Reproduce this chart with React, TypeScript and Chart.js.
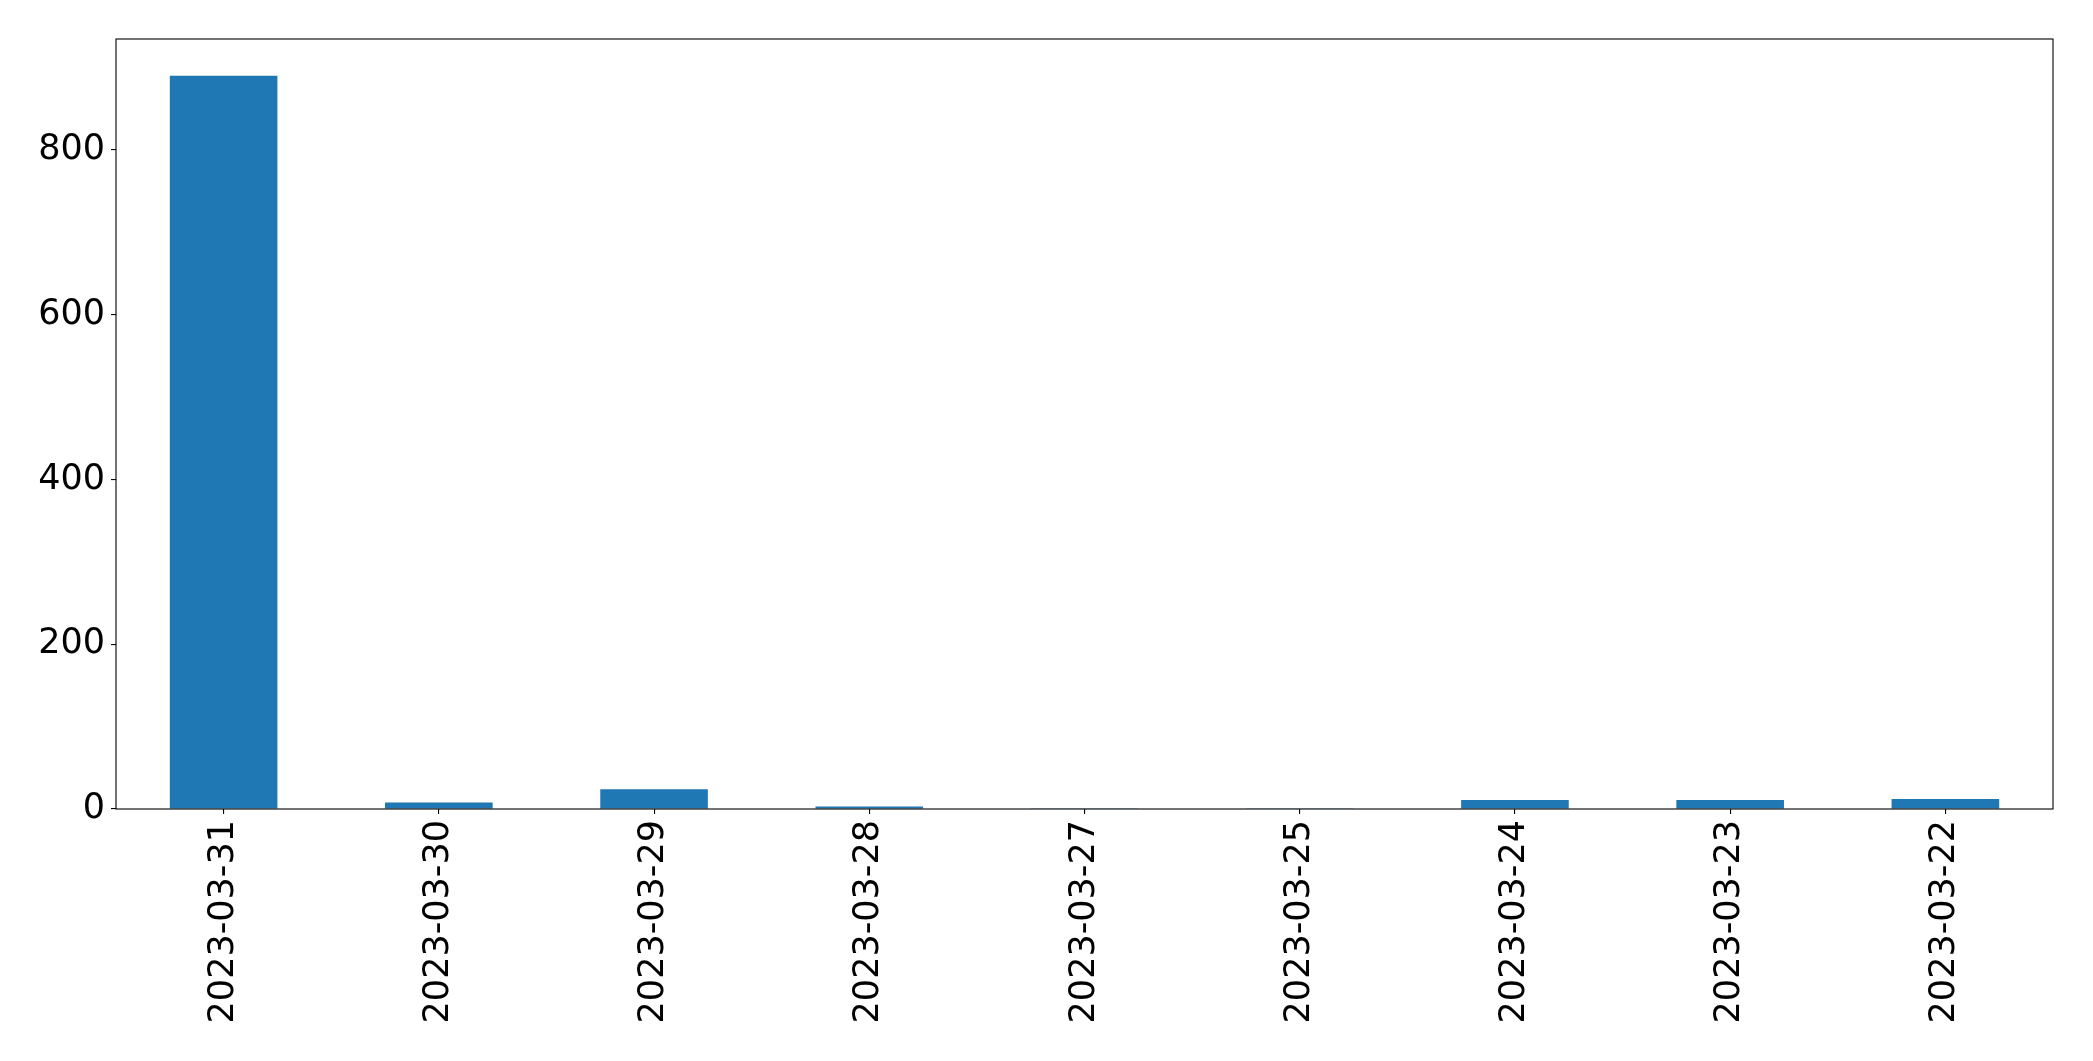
import { useEffect, useRef } from "react";
import { Chart, registerables } from "chart.js";
import type { Plugin } from "chart.js";
Chart.register(...registerables);

const dates = [
  "2023-03-31",
  "2023-03-30",
  "2023-03-29",
  "2023-03-28",
  "2023-03-27",
  "2023-03-25",
  "2023-03-24",
  "2023-03-23",
  "2023-03-22",
];
const counts = [890, 8, 24, 3, 1, 1, 11, 11, 12];
const yTicks = [0, 200, 400, 600, 800];

const W = 2093;
const H = 1061;

// matplotlib-style frame round the plot area
const framePlugin: Plugin<"bar"> = {
  id: "frame",
  afterDraw(chart) {
    const { ctx, chartArea } = chart;
    ctx.save();
    ctx.strokeStyle = "#000";
    ctx.lineWidth = 1.1;
    ctx.strokeRect(
      chartArea.left,
      chartArea.top,
      chartArea.right - chartArea.left,
      chartArea.bottom - chartArea.top
    );
    ctx.restore();
  },
};

const App = () => {
  const canvasRef = useRef<HTMLCanvasElement | null>(null);

  useEffect(() => {
    if (!canvasRef.current) return;
    const font = { family: "'DejaVu Sans', sans-serif", size: 35 };

    const chart = new Chart(canvasRef.current, {
      type: "bar",
      data: {
        labels: dates,
        datasets: [
          {
            data: counts,
            backgroundColor: "#1f77b4",
            borderWidth: 0,
            categoryPercentage: 1,
            barPercentage: 0.5,
          },
        ],
      },
      options: {
        responsive: false,
        animation: false,
        layout: { padding: { top: 39, right: W - 2053, left: 0, bottom: 0 } },
        plugins: {
          legend: { display: false },
          tooltip: { enabled: false },
        },
        scales: {
          x: {
            afterFit: (scale) => {
              scale.height = H - 809;
            },
            grid: {
              display: true,
              offset: false,
              drawOnChartArea: false,
              drawTicks: true,
              tickLength: 5,
              color: "#000",
              lineWidth: 1.1,
            },
            border: { display: false },
            ticks: {
              color: "#000",
              font,
              padding: 6,
              minRotation: 90,
              maxRotation: 90,
              autoSkip: false,
            },
          },
          y: {
            min: 0,
            max: Math.max(...counts) * 1.05,
            afterFit: (scale) => {
              scale.width = 116;
            },
            afterBuildTicks: (scale) => {
              scale.ticks = yTicks.map((v) => ({ value: v }));
            },
            grid: {
              display: true,
              drawOnChartArea: false,
              drawTicks: true,
              tickLength: 5,
              color: "#000",
              lineWidth: 1.1,
            },
            border: { display: false },
            ticks: {
              color: "#000",
              font,
              padding: 6,
            },
          },
        },
      },
      plugins: [framePlugin],
    });

    return () => {
      chart.destroy();
    };
  }, []);

  return (
    <div
      style={{
        position: "absolute",
        left: 0,
        top: 0,
        width: W,
        height: H,
        background: "#fff",
      }}
    >
      <canvas ref={canvasRef} width={W} height={H} />
    </div>
  );
};

export default App;
